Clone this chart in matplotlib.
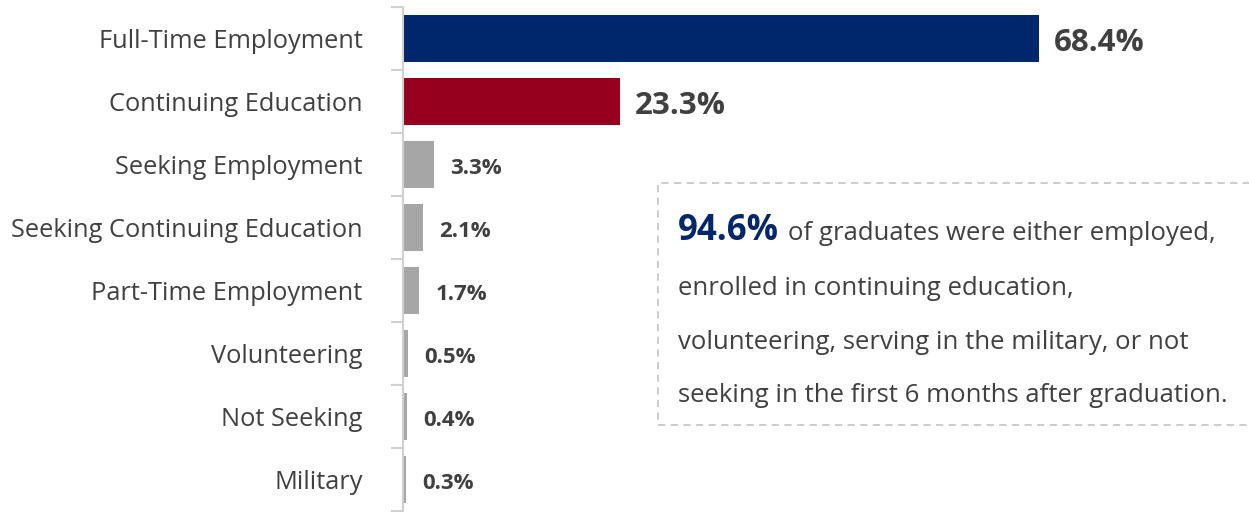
import matplotlib
matplotlib.use('Agg')
import matplotlib.pyplot as plt
from matplotlib.patches import Rectangle

categories = ['Full-Time Employment', 'Continuing Education', 'Seeking Employment',
              'Seeking Continuing Education', 'Part-Time Employment', 'Volunteering',
              'Not Seeking', 'Military']
values = [68.4, 23.3, 3.3, 2.1, 1.7, 0.5, 0.4, 0.3]
value_labels = ['68.4%', '23.3%', '3.3%', '2.1%', '1.7%', '0.5%', '0.4%', '0.3%']
bar_colors = ['#00266b', '#96001e', '#a6a6a6', '#a6a6a6', '#a6a6a6', '#a6a6a6', '#a6a6a6', '#a6a6a6']

headline = '94.6%'
note_lines = ['of graduates were either employed,',
              'enrolled in continuing education,',
              'volunteering, serving in the military, or not',
              'seeking in the first 6 months after graduation.']

W, H = 1249, 512
plt.rcParams['font.family'] = ['Open Sans', 'DejaVu Sans']
TXT = '#404040'

fig = plt.figure(figsize=(W / 100, H / 100), dpi=100)
ax = fig.add_axes([403 / W, 1 / H, 1 - 403 / W, 504 / H])

ypos = list(range(len(categories)))
ax.barh(ypos, values, height=0.76, color=bar_colors)
ax.set_xlim(0, 91)
ax.set_ylim(len(categories) - 0.5, -0.5)

# category labels, ticks sit on the boundaries between rows
ax.set_yticks(ypos)
ax.set_yticklabels(categories, fontsize=18.3, color=TXT)
ax.tick_params(axis='y', which='major', length=0, pad=29)
ax.set_yticks([i - 0.5 for i in range(len(categories) + 1)], minor=True)
ax.tick_params(axis='y', which='minor', length=9, width=1.5, color='#d0d0d0')
ax.set_xticks([])
for s in ['top', 'right', 'bottom']:
    ax.spines[s].set_visible(False)
ax.spines['left'].set_color('#d0d0d0')
ax.spines['left'].set_linewidth(1.5)

for i, (v, lab) in enumerate(zip(values, value_labels)):
    big = i < 2
    ax.annotate(lab, (v, i), xytext=(11 if big else 12, -3), textcoords='offset points',
                va='center', ha='left', fontsize=22.5 if big else 16,
                fontweight='bold', color=TXT)

# dashed note box
box = Rectangle((658 / W, 1 - 425 / H), 0.6, 242 / H, transform=fig.transFigure,
                fill=False, edgecolor='#c8c8c8', linestyle=(0, (4, 3)), linewidth=1.3,
                clip_on=False)
fig.add_artist(box)

x0 = 678 / W
baselines = [240, 295, 349, 402]
t1 = fig.text(x0, 1 - baselines[0] / H, headline, fontsize=25, fontweight='bold',
              color='#00266b', va='baseline', ha='left')
fig.canvas.draw()
bb = t1.get_window_extent()
fig.text((bb.x1 + 9) / W, 1 - baselines[0] / H, note_lines[0], fontsize=18.5,
         color=TXT, va='baseline', ha='left')
for line, b in zip(note_lines[1:], baselines[1:]):
    fig.text(x0, 1 - b / H, line, fontsize=18.5, color=TXT, va='baseline', ha='left')

fig.savefig('out.png', dpi=100)
